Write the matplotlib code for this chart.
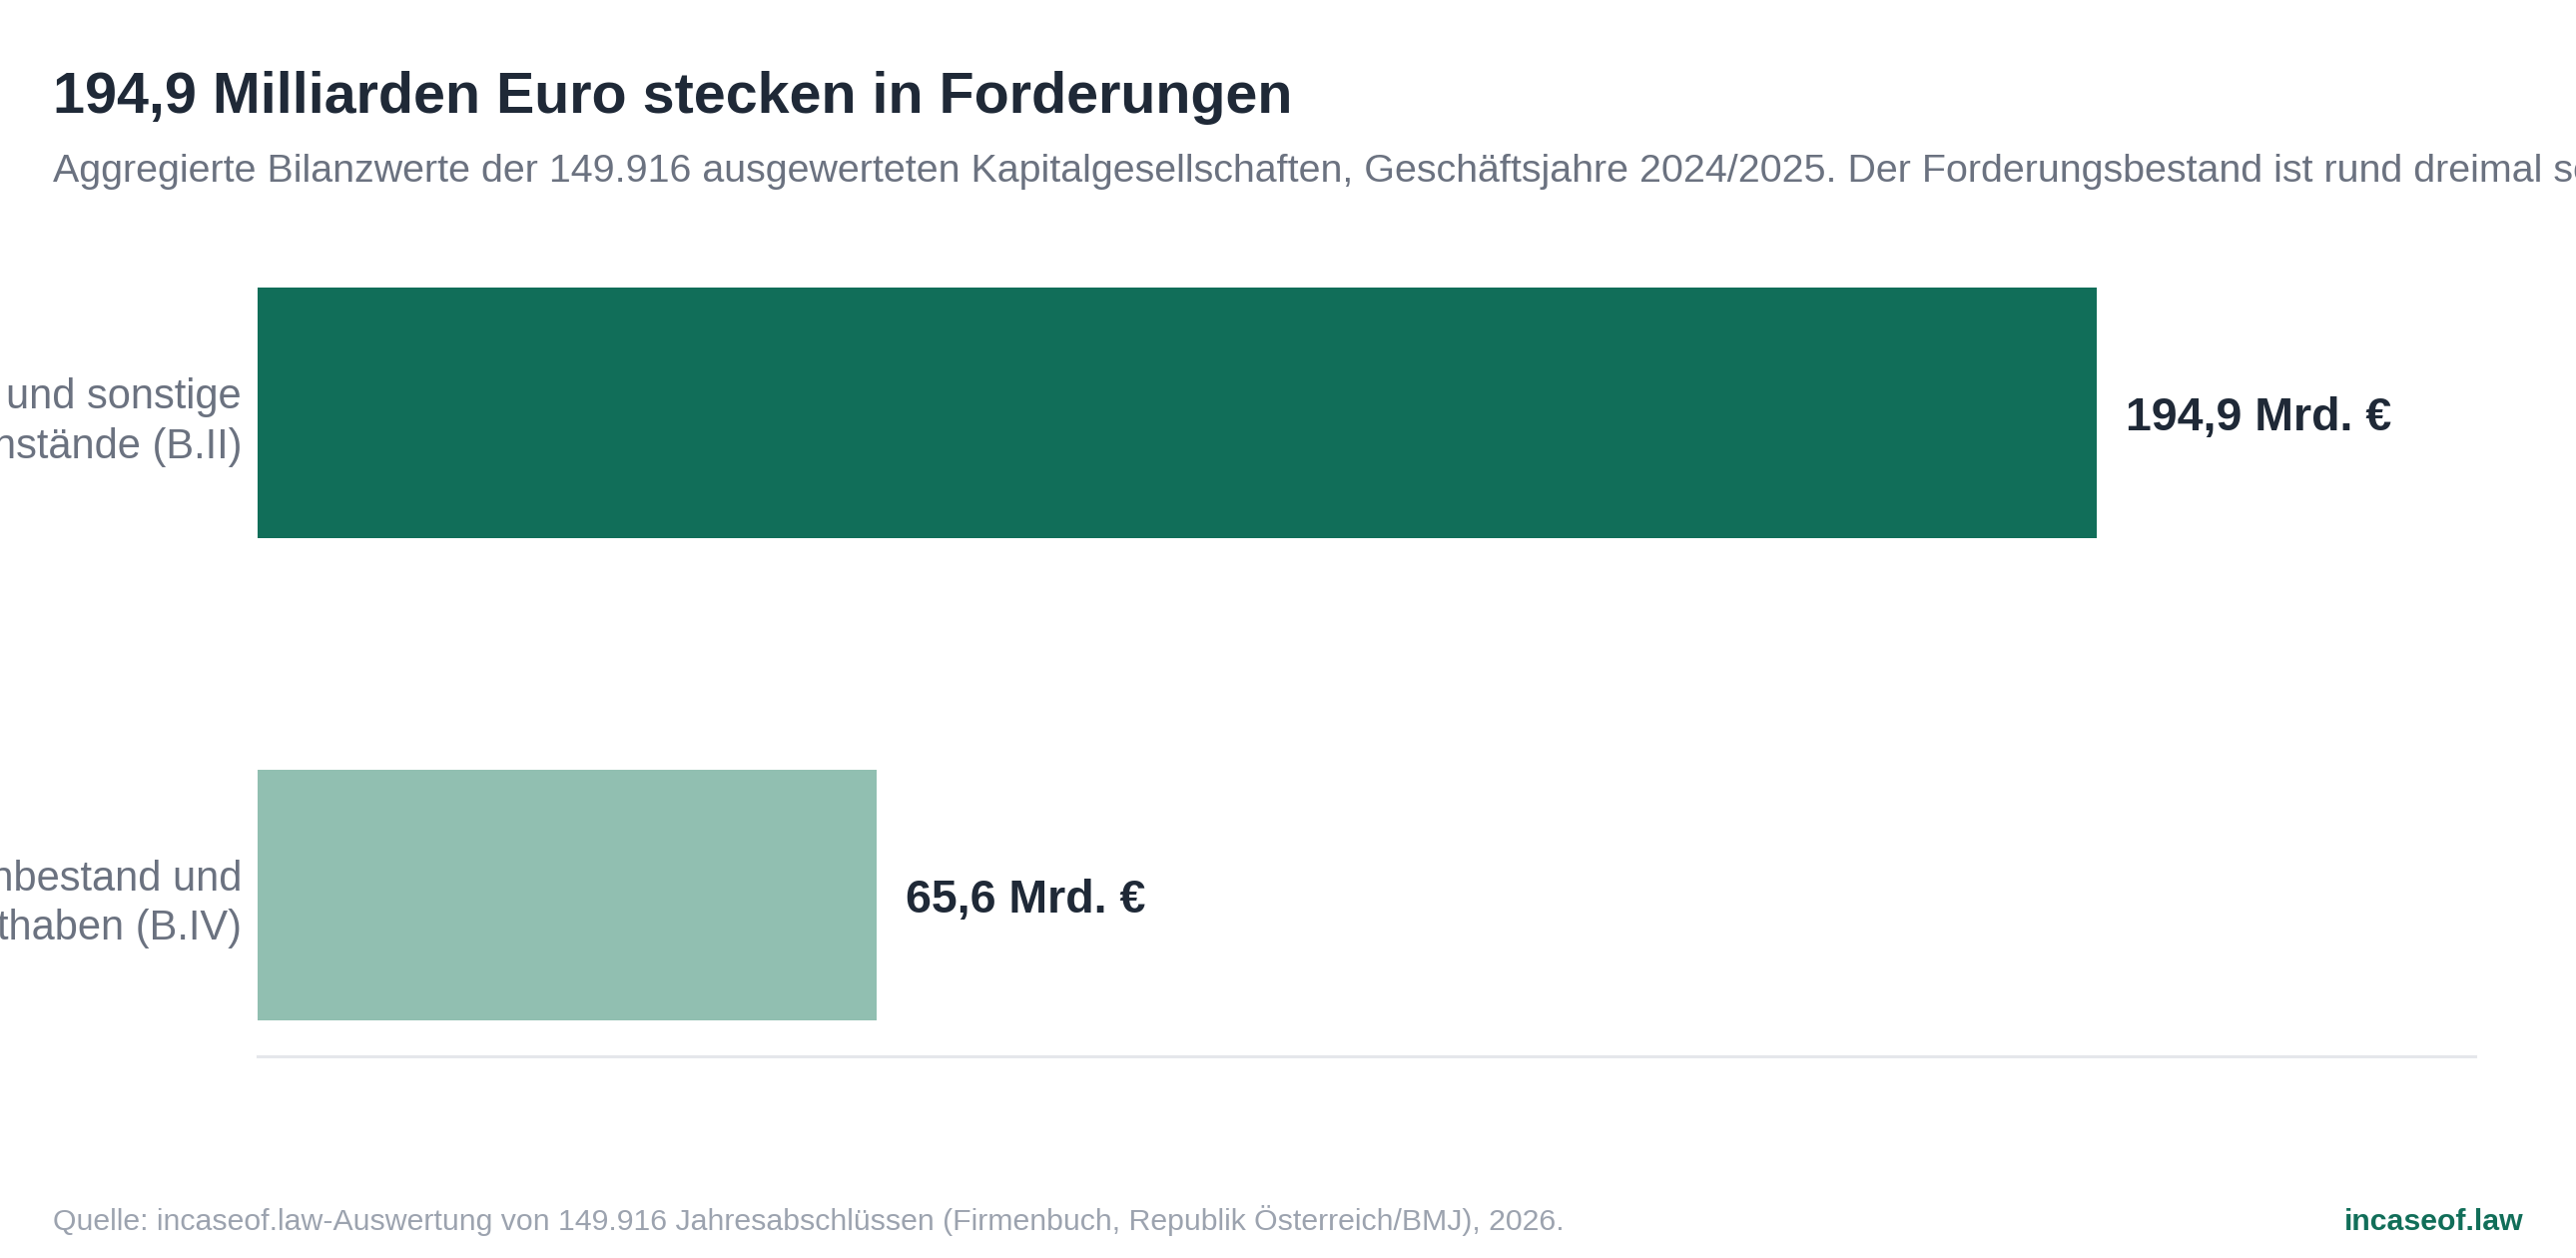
import matplotlib
matplotlib.use("Agg")
import matplotlib.pyplot as plt

# Daten
categories = [
    "Forderungen und sonstige\nVermögensgegenstände (B.II)",
    "Kassenbestand und\nBankguthaben (B.IV)",
]
values = [194.9, 65.6]
value_labels = ["194,9 Mrd. €", "65,6 Mrd. €"]
bar_colors = ["#116e59", "#91bfb1"]

title = "194,9 Milliarden Euro stecken in Forderungen"
subtitle = ("Aggregierte Bilanzwerte der 149.916 ausgewerteten Kapitalgesellschaften, "
            "Geschäftsjahre 2024/2025. Der Forderungsbestand ist rund dreimal so hoch "
            "wie die liquiden Mittel.")
source = ("Quelle: incaseof.law-Auswertung von 149.916 Jahresabschlüssen "
          "(Firmenbuch, Republik Österreich/BMJ), 2026.")
brand = "incaseof.law"

plt.rcParams["font.family"] = ["Liberation Sans", "DejaVu Sans"]

fig = plt.figure(figsize=(25.8, 12.6), dpi=100)
ax = fig.add_axes([0.1, 0.16, 0.8609, 0.64])

ypos = list(range(len(categories)))
ax.barh(ypos, values, height=0.52, color=bar_colors)

ax.set_xlim(0, 235)
ax.set_ylim(1.335, -0.335)

ax.set_yticks(ypos)
ax.set_yticklabels(categories, fontsize=30, color="#6b7280", linespacing=1.3)
ax.tick_params(axis="y", length=0, pad=11.5)
ax.set_xticks([])

for s in ["top", "right", "left"]:
    ax.spines[s].set_visible(False)
ax.spines["bottom"].set_color("#e5e7eb")
ax.spines["bottom"].set_linewidth(2.2)

for y, v, lab in zip(ypos, values, value_labels):
    ax.annotate(lab, (v, y), xytext=(21, 0), textcoords="offset points",
                va="center_baseline", ha="left", fontsize=33.5,
                fontweight="bold", color="#1f2937")

# Titel, Untertitel, Quelle
fig.text(53 / 2580, 1 - 113 / 1260, title, fontsize=41.3, fontweight="bold",
         color="#1f2937", va="baseline", ha="left")
fig.text(53 / 2580, 1 - 182 / 1260, subtitle, fontsize=28.4,
         color="#6b7280", va="baseline", ha="left")
fig.text(53 / 2580, 1 - 1232 / 1260, source, fontsize=21.8,
         color="#9ca3af", va="baseline", ha="left")
fig.text(2528 / 2580, 1 - 1232 / 1260, brand, fontsize=21.8, fontweight="bold",
         color="#116e59", va="baseline", ha="right")

fig.savefig("out.png", dpi=100, facecolor="white")
